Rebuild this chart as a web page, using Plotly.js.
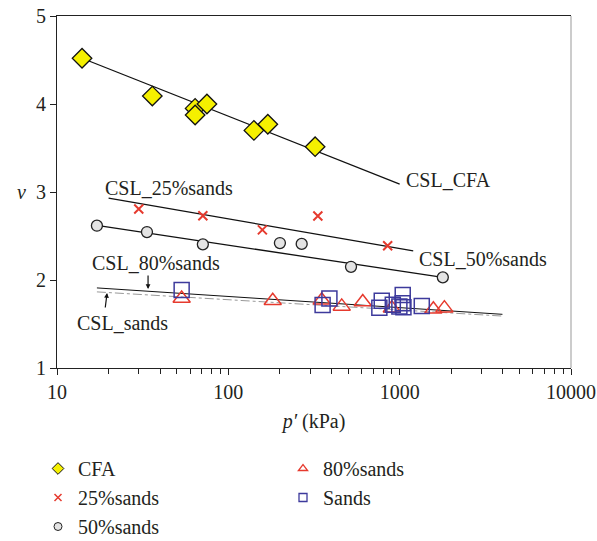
<!DOCTYPE html>
<html><head><meta charset="utf-8">
<script src="https://cdn.plot.ly/plotly-3.0.1.min.js"></script>
<style>body{margin:0;background:#fff}#chart{width:597px;height:541px}</style>
</head><body><div id="chart"></div>
<script>
// Data: p' (kPa) and specific volume v
const cfaP = [14, 36, 64, 64, 75, 141, 170, 321];
const cfaV = [4.52, 4.09, 3.95, 3.875, 4.0, 3.70, 3.77, 3.515];
const s25P = [30, 71, 158, 333, 851];
const s25V = [2.807, 2.73, 2.57, 2.727, 2.39];
const s50P = [17.1, 33.5, 71, 200, 268, 520, 1786];
const s50V = [2.617, 2.545, 2.405, 2.42, 2.41, 2.15, 2.03];
const s80P = [53.4, 181.6, 351, 459, 609, 900, 1573, 1824];
const s80V = [1.79, 1.765, 1.77, 1.70, 1.75, 1.68, 1.667, 1.68];
const sandP = [53.4, 355, 389, 761, 786, 912, 996, 1042, 1042, 1052, 1346];
const sandV = [1.886, 1.716, 1.79, 1.685, 1.765, 1.72, 1.70, 1.83, 1.735, 1.69, 1.705];

// Critical state lines (end points)
const cslCfaP = [14, 1000];   const cslCfaV = [4.52, 3.09];
const csl25P = [20, 1200];    const csl25V = [2.93, 2.33];
const csl50P = [17.1, 1786];  const csl50V = [2.62, 2.03];
const csl80P = [17.1, 3980];  const csl80V = [1.91, 1.61];
const cslSandP = [17.1, 3980];const cslSandV = [1.865, 1.59];

const xTicks = [10, 100, 1000, 10000];
const xTickText = ['10', '100', '1000', '10000'];
const xMinor = [20,30,40,50,60,70,80,90,200,300,400,500,600,700,800,900,2000,3000,4000,5000,6000,7000,8000,9000];
const yTicks = [1, 2, 3, 4, 5];

const FONT = 'Liberation Serif';
const FS = 20;
const TXT = '#231f20';
const RED = '#e63a2e';
const NAVY = '#3d3a9c';
const YEL = '#f5f000';

const lineTrace = (x, y, opts) => Object.assign({x, y, type: 'scatter', mode: 'lines', showlegend: false, hoverinfo: 'skip'}, opts);

const traces = [
  lineTrace(cslCfaP, cslCfaV, {line: {color: '#111', width: 1.3}}),
  lineTrace(csl25P, csl25V, {line: {color: '#111', width: 1.3}}),
  lineTrace(csl50P, csl50V, {line: {color: '#111', width: 1.3}}),
  lineTrace(cslSandP, cslSandV, {line: {color: '#999', width: 1, dash: 'dashdot'}}),
  lineTrace(csl80P, csl80V, {line: {color: '#111', width: 1}}),
  {x: cfaP, y: cfaV, type: 'scatter', mode: 'markers', showlegend: false,
   marker: {symbol: 'diamond', size: 15, color: YEL, line: {color: '#111', width: 1.3}}},
  {x: s25P, y: s25V, type: 'scatter', mode: 'markers', showlegend: false,
   marker: {symbol: 'x-thin-open', size: 9, color: RED, line: {color: RED, width: 2}}},
  {x: s50P, y: s50V, type: 'scatter', mode: 'markers', showlegend: false,
   marker: {symbol: 'circle', size: 11, color: '#e4e4e4', line: {color: '#222', width: 1.3}}},
  {x: s80P, y: s80V, type: 'scatter', mode: 'markers', showlegend: false,
   marker: {symbol: 'triangle-up-open', size: 15, color: RED, line: {color: RED, width: 1.5}}},
  {x: sandP, y: sandV, type: 'scatter', mode: 'markers', showlegend: false,
   marker: {symbol: 'square-open', size: 15, color: NAVY, line: {color: NAVY, width: 1.5}}},
  // legend entries
  {x: [null], y: [null], name: 'CFA', type: 'scatter', mode: 'markers', legend: 'legend',
   marker: {symbol: 'diamond', size: 9, color: YEL, line: {color: '#111', width: 1}}},
  {x: [null], y: [null], name: '25%sands', type: 'scatter', mode: 'markers', legend: 'legend',
   marker: {symbol: 'x-thin-open', size: 7, color: RED, line: {color: RED, width: 1.5}}},
  {x: [null], y: [null], name: '50%sands', type: 'scatter', mode: 'markers', legend: 'legend',
   marker: {symbol: 'circle', size: 8, color: '#e4e4e4', line: {color: '#222', width: 1}}},
  {x: [null], y: [null], name: '80%sands', type: 'scatter', mode: 'markers', legend: 'legend2',
   marker: {symbol: 'triangle-up-open', size: 8, color: RED, line: {color: RED, width: 1.3}}},
  {x: [null], y: [null], name: 'Sands', type: 'scatter', mode: 'markers', legend: 'legend2',
   marker: {symbol: 'square-open', size: 8, color: NAVY, line: {color: NAVY, width: 1.3}}}
];

const lab = (x, y, text) => ({x: Math.log10(x), y, xref: 'x', yref: 'y', text, showarrow: false,
  xanchor: 'left', yanchor: 'middle', font: {family: FONT, size: FS, color: TXT}});

const legendCommon = {orientation: 'v', xref: 'container', yref: 'container', xanchor: 'left', yanchor: 'top',
  font: {family: FONT, size: FS, color: TXT}, bgcolor: 'rgba(0,0,0,0)', itemwidth: 30, tracegroupgap: 0};

const layout = {
  width: 597, height: 541,
  margin: {l: 57, r: 26, t: 16, b: 173, autoexpand: false},
  paper_bgcolor: '#fff', plot_bgcolor: '#fff',
  font: {family: FONT, size: FS, color: TXT},
  xaxis: {type: 'log', range: [1, 4], tickmode: 'array', tickvals: xTicks, ticktext: xTickText,
    ticks: 'outside', ticklen: 6, tickwidth: 1, tickcolor: '#222',
    minor: {tickmode: 'array', tickvals: xMinor, ticks: 'outside', ticklen: 5, tickwidth: 1, tickcolor: '#222', showgrid: false},
    showline: true, linecolor: '#222', linewidth: 1, mirror: true, showgrid: false, zeroline: false,
    automargin: false,
    tickfont: {family: FONT, size: FS, color: TXT},
    title: {text: '<i>p′</i> (kPa)', font: {family: FONT, size: FS, color: TXT}, standoff: 11}},
  yaxis: {range: [1, 5], tickmode: 'array', tickvals: yTicks, ticks: 'outside', ticklen: 6, tickwidth: 1, tickcolor: '#222',
    showline: true, linecolor: '#222', linewidth: 1, mirror: false, showgrid: false, zeroline: false,
    automargin: false,
    tickfont: {family: FONT, size: FS, color: TXT}},
  shapes: [
    {type: 'line', xref: 'paper', yref: 'paper', x0: 1, x1: 1, y0: 0, y1: 1, line: {color: '#999', width: 1}}
  ],
  annotations: [
    {x: -0.07, y: 3, xref: 'paper', yref: 'y', text: '<i>ν</i>', showarrow: false,
     font: {family: FONT, size: FS, color: TXT}, xanchor: 'center', yanchor: 'middle'},
    lab(1062, 3.14, 'CSL_CFA'),
    lab(18.6, 3.045, 'CSL_25%sands'),
    lab(1259, 2.24, 'CSL_50%sands'),
    lab(15.6, 2.19, 'CSL_80%sands'),
    lab(12.7, 1.51, 'CSL_sands'),
    {x: Math.log10(34), y: 1.898, xref: 'x', yref: 'y', text: '', showarrow: true, arrowhead: 2, arrowsize: 0.8,
     arrowwidth: 1.2, arrowcolor: '#111', ax: 0, ay: -15},
    {x: Math.log10(19.6), y: 1.852, xref: 'x', yref: 'y', text: '', showarrow: true, arrowhead: 2, arrowsize: 0.8,
     arrowwidth: 1.2, arrowcolor: '#111', ax: -2, ay: 16}
  ],
  legend: Object.assign({x: 38 / 597, y: 1 - 449 / 541}, legendCommon),
  legend2: Object.assign({x: 283 / 597, y: 1 - 449 / 541}, legendCommon)
};

Plotly.newPlot('chart', traces, layout, {staticPlot: true, displayModeBar: false});
</script></body></html>
